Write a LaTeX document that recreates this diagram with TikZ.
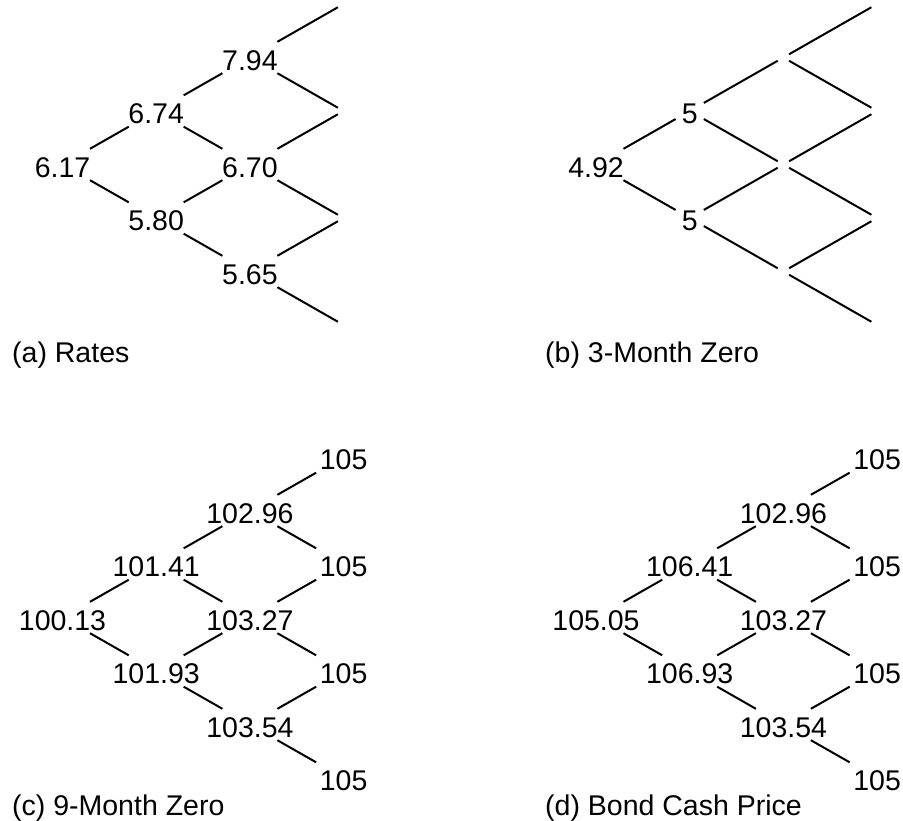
\documentclass[tikz,border=0pt]{standalone}
\usepackage{fontspec}
\setmainfont{Liberation Sans}
\begin{document}
\begin{tikzpicture}[x=1pt,y=-1pt,
  lbl/.style={font=\fontsize{28.5}{34}\selectfont, text height=25pt, text depth=0pt, inner xsep=6pt, inner ysep=3pt},
  emp/.style={inner sep=0pt, minimum size=11pt},
  edge/.style={line width=2pt},
  captxt/.style={font=\fontsize{28.5}{34}\selectfont, inner sep=0pt, anchor=base west}]
\useasboundingbox (0,0) rectangle (903,820);
% (a) Rates
\begin{scope}[shift={(62.5,164.5)}]
  \node[lbl] (a00) at (0,0) {6.17};
  \node[lbl] (a10) at (93.7,-53.5) {6.74};
  \node[lbl] (a11) at (93.7,53.5) {5.80};
  \node[lbl] (a20) at (187.4,-107) {7.94};
  \node[lbl] (a21) at (187.4,0) {6.70};
  \node[lbl] (a22) at (187.4,107) {5.65};
  \node[emp] (a30) at (281.1,-160.5) {};
  \node[emp] (a31) at (281.1,-53.5) {};
  \node[emp] (a32) at (281.1,53.5) {};
  \node[emp] (a33) at (281.1,160.5) {};
\end{scope}
% (b) 3-Month Zero
\begin{scope}[shift={(596,164.5)}]
  \node[lbl] (b00) at (0,0) {4.92};
  \node[lbl] (b10) at (93.7,-53.5) {5};
  \node[lbl] (b11) at (93.7,53.5) {5};
  \node[emp] (b20) at (187.4,-107) {};
  \node[emp] (b21) at (187.4,0) {};
  \node[emp] (b22) at (187.4,107) {};
  \node[emp] (b30) at (281.1,-160.5) {};
  \node[emp] (b31) at (281.1,-53.5) {};
  \node[emp] (b32) at (281.1,53.5) {};
  \node[emp] (b33) at (281.1,160.5) {};
\end{scope}
% (c) 9-Month Zero
\begin{scope}[shift={(62.5,617.5)}]
  \node[lbl] (c00) at (0,0) {100.13};
  \node[lbl] (c10) at (93.7,-53.5) {101.41};
  \node[lbl] (c11) at (93.7,53.5) {101.93};
  \node[lbl] (c20) at (187.4,-107) {102.96};
  \node[lbl] (c21) at (187.4,0) {103.27};
  \node[lbl] (c22) at (187.4,107) {103.54};
  \node[lbl] (c30) at (281.1,-160.5) {105};
  \node[lbl] (c31) at (281.1,-53.5) {105};
  \node[lbl] (c32) at (281.1,53.5) {105};
  \node[lbl] (c33) at (281.1,160.5) {105};
\end{scope}
% (d) Bond Cash Price
\begin{scope}[shift={(596,617.5)}]
  \node[lbl] (d00) at (0,0) {105.05};
  \node[lbl] (d10) at (93.7,-53.5) {106.41};
  \node[lbl] (d11) at (93.7,53.5) {106.93};
  \node[lbl] (d20) at (187.4,-107) {102.96};
  \node[lbl] (d21) at (187.4,0) {103.27};
  \node[lbl] (d22) at (187.4,107) {103.54};
  \node[lbl] (d30) at (281.1,-160.5) {105};
  \node[lbl] (d31) at (281.1,-53.5) {105};
  \node[lbl] (d32) at (281.1,53.5) {105};
  \node[lbl] (d33) at (281.1,160.5) {105};
\end{scope}
\foreach \p in {a,b,c,d}{
  \draw[edge] (\p00)--(\p10) (\p00)--(\p11)
    (\p10)--(\p20) (\p10)--(\p21) (\p11)--(\p21) (\p11)--(\p22)
    (\p20)--(\p30) (\p20)--(\p31) (\p21)--(\p31) (\p21)--(\p32)
    (\p22)--(\p32) (\p22)--(\p33);
}
\node[captxt] (capa) at (12,362) {(a) Rates};
\node[captxt] (capb) at (545,362) {(b) 3-Month Zero};
\node[captxt] (capc) at (12,815) {(c) 9-Month Zero};
\node[captxt] (capd) at (545,815) {(d) Bond Cash Price};
\end{tikzpicture}
\end{document}
